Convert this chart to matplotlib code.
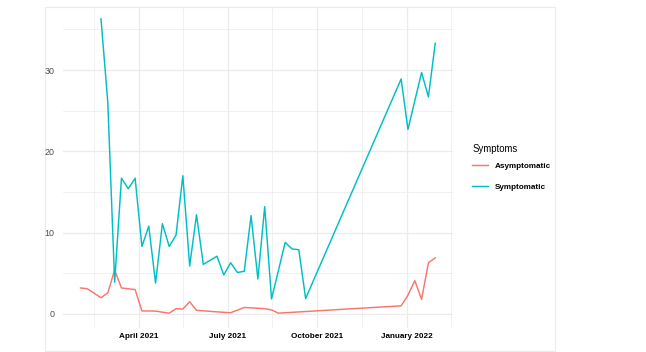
import matplotlib
matplotlib.use("Agg")
import matplotlib.pyplot as plt
import pandas as pd
from matplotlib.patches import Rectangle

# data (weekly counts)
asym_dates = ["2021-01-31", "2021-02-07", "2021-02-14", "2021-02-21", "2021-02-28", "2021-03-07",
              "2021-03-14", "2021-03-21", "2021-03-28", "2021-04-04", "2021-04-11", "2021-04-18",
              "2021-04-25", "2021-05-02", "2021-05-09", "2021-05-16", "2021-05-23", "2021-05-30",
              "2021-06-06", "2021-06-13", "2021-06-20", "2021-06-27", "2021-07-04", "2021-07-11",
              "2021-07-18", "2021-07-25", "2021-08-01", "2021-08-08", "2021-08-15", "2021-08-22",
              "2021-12-26", "2022-01-02", "2022-01-09", "2022-01-16", "2022-01-23", "2022-01-30"]
asym_vals = [3.2, 3.1, 2.55, 2.0, 2.6, 5.4, 3.2, 3.1, 3.0, 0.37, 0.37, 0.35,
             0.22, 0.1, 0.65, 0.6, 1.5, 0.45, 0.39, 0.32, 0.26, 0.2, 0.15, 0.47,
             0.8, 0.75, 0.7, 0.65, 0.5, 0.1,
             1.0, 2.3, 4.1, 1.8, 6.3, 6.9]

sym_dates = ["2021-02-21", "2021-02-28", "2021-03-07", "2021-03-14", "2021-03-21", "2021-03-28",
             "2021-04-04", "2021-04-11", "2021-04-18", "2021-04-25", "2021-05-02", "2021-05-09",
             "2021-05-16", "2021-05-23", "2021-05-30", "2021-06-06", "2021-06-13", "2021-06-20",
             "2021-06-27", "2021-07-04", "2021-07-11", "2021-07-18", "2021-07-25", "2021-08-01",
             "2021-08-08", "2021-08-15", "2021-08-22", "2021-08-29", "2021-09-05", "2021-09-12",
             "2021-09-19",
             "2021-12-26", "2022-01-02", "2022-01-09", "2022-01-16", "2022-01-23", "2022-01-30"]
sym_vals = [36.3, 26.0, 3.9, 16.7, 15.4, 16.7, 8.3, 10.8, 3.8, 11.1, 8.3, 9.7,
            17.0, 5.9, 12.2, 6.1, 6.6, 7.1, 4.8, 6.3, 5.1, 5.25, 12.1, 4.3,
            13.2, 1.85, 5.3, 8.8, 8.0, 7.9, 1.9,
            28.9, 22.7, 26.2, 29.7, 26.7, 33.3]

series_names = ["Asymptomatic", "Symptomatic"]
series_colors = ["#F8766D", "#00BFC4"]

major_ticks = ["2021-04-01", "2021-07-01", "2021-10-01", "2022-01-01"]
major_labels = ["April 2021", "July 2021", "October 2021", "January 2022"]
minor_ticks = ["2021-02-14", "2021-05-16", "2021-08-16", "2021-11-16", "2022-02-15"]
y_ticks = [0, 10, 20, 30]

plt.rcParams['font.family'] = ['Liberation Sans', 'DejaVu Sans']

fig = plt.figure(figsize=(6.46, 3.52), dpi=100)
ax = fig.add_axes([0.0972, 0.0688, 0.604, 0.91])
ax.patch.set_visible(False)

# faint frame round the whole plot, kept behind everything
fig.patches.append(Rectangle((45 / 646, 1 / 352), 510 / 646, 344 / 352, transform=fig.transFigure,
                             fill=False, edgecolor="#ebebeb", linewidth=0.8, zorder=-1))

l1, = ax.plot(pd.to_datetime(asym_dates), asym_vals, color=series_colors[0], linewidth=1.05,
              label=series_names[0])
l2, = ax.plot(pd.to_datetime(sym_dates), sym_vals, color=series_colors[1], linewidth=1.05,
              label=series_names[1])

ax.set_xlim(pd.Timestamp("2021-01-12 19:00"), pd.Timestamp("2022-02-17 05:00"))
ax.set_ylim(-1.7, 37.7)

ax.set_xticks(pd.to_datetime(major_ticks))
ax.set_xticklabels(major_labels, fontsize=5.9, fontweight='bold', color='black')
ax.set_xticks(pd.to_datetime(minor_ticks), minor=True)
ax.set_yticks(y_ticks)
ax.set_yticklabels([str(v) for v in y_ticks], fontsize=6.4, color='#4d4d4d')
ax.set_yticks([5, 15, 25, 35], minor=True)

ax.tick_params(which='both', length=0)
ax.tick_params(axis='y', pad=6.0)
ax.tick_params(axis='x', pad=3.5)

ax.grid(which='major', color='#ebebeb', linewidth=0.9)
ax.grid(which='minor', color='#ebebeb', linewidth=0.5)
ax.set_axisbelow(True)

# Remove the frame
for spine in ax.spines.values():
    spine.set_visible(False)

leg = fig.legend(handles=[l1, l2], labels=series_names, title="Symptoms",
                 loc='upper left', bbox_to_anchor=(0.7245, 0.603), frameon=False,
                 borderpad=0, handlelength=1.9, handletextpad=0.9, labelspacing=1.6,
                 prop={'size': 5.9, 'weight': 'bold'}, title_fontsize=6.9, alignment='left')
leg.get_title().set_color('black')
leg._legend_box.sep = 6

fig.savefig("out.png", dpi=100)
